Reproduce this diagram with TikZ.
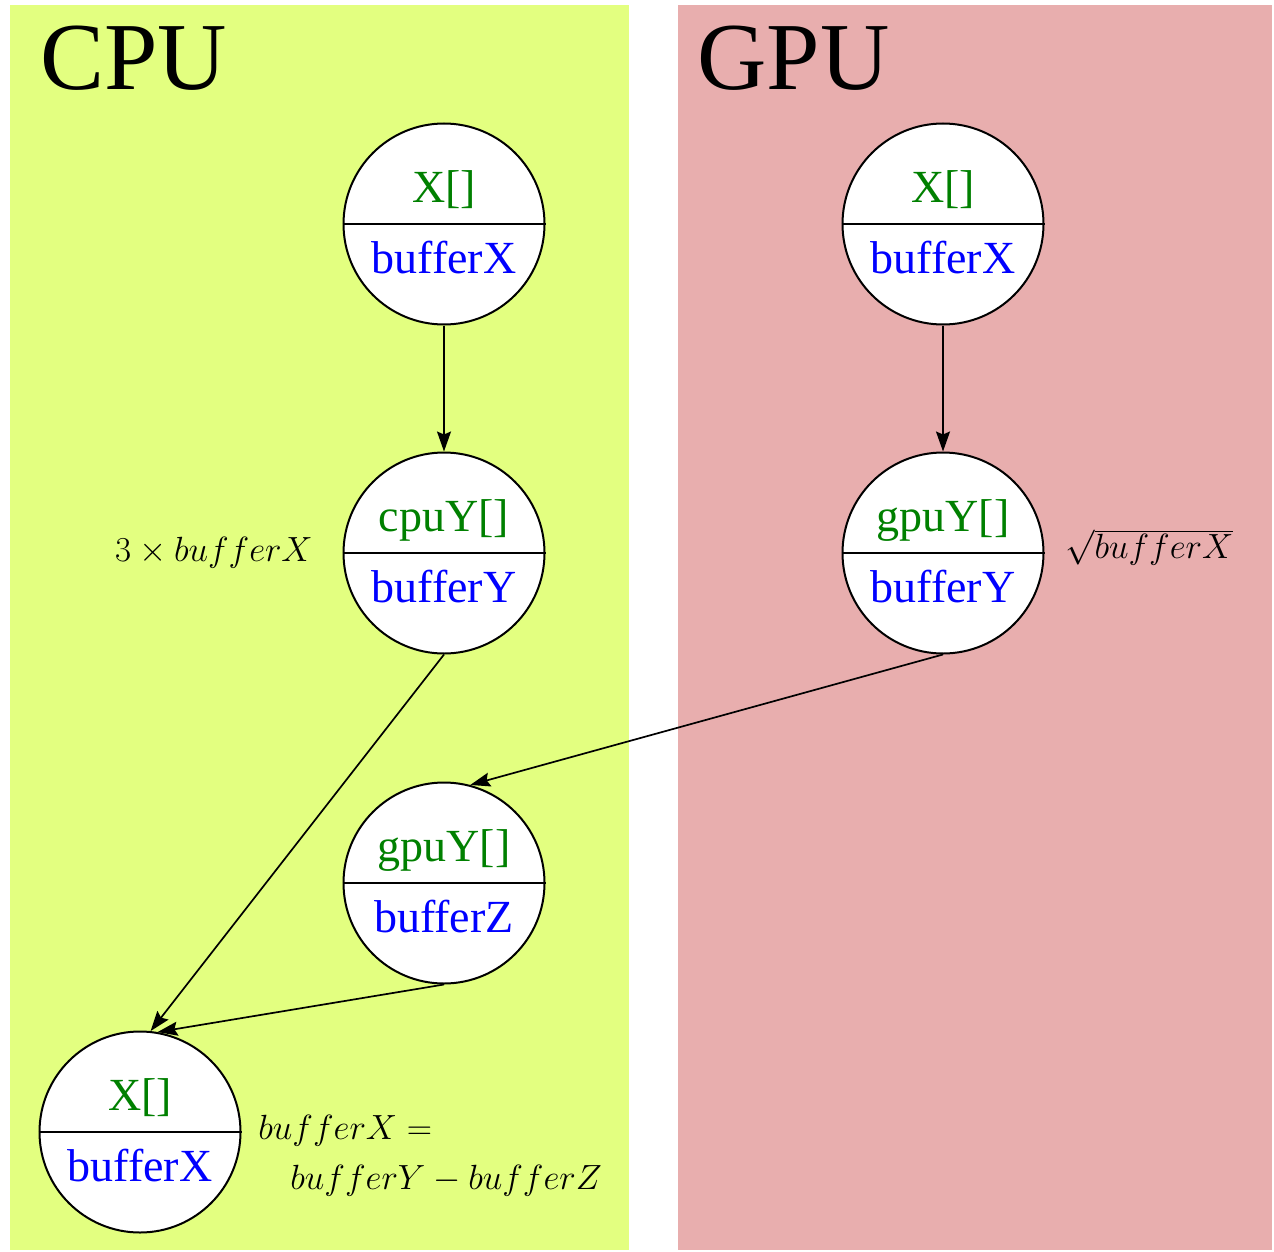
\documentclass[tikz,border=0pt]{standalone}
\usepackage{fix-cm}
\usepackage{fontspec}
\setmainfont{Liberation Serif}
\usetikzlibrary{arrows.meta}
\definecolor{cpubg}{RGB}{227,255,128}
\definecolor{gpubg}{RGB}{232,174,174}
\definecolor{tgreen}{RGB}{0,128,0}
\definecolor{tblue}{RGB}{0,0,255}
\begin{document}
\begin{tikzpicture}[x=0.5pt,y=-0.5pt,
  bufnode/.style={circle,draw,fill=white,line width=1pt,minimum size=100.5pt,inner sep=0pt},
  splitline/.style={line width=0.9pt},
  toptxt/.style={anchor=base,text=tgreen,font=\fontsize{23}{27}\selectfont,inner sep=0pt},
  bottxt/.style={anchor=base,text=tblue,font=\fontsize{23}{27}\selectfont,inner sep=0pt},
  heading/.style={anchor=base west,font=\fontsize{48}{56}\selectfont,inner sep=0pt},
  mathlbl/.style={font=\fontsize{17.5}{21}\selectfont,inner sep=0pt},
  edge/.style={-{Stealth[length=10pt,width=7pt,inset=1.5pt]},line width=0.85pt}]
\useasboundingbox (0,0) rectangle (1274,1252);
\fill[cpubg] (10,5) rectangle (629,1250);
\fill[gpubg] (678,5) rectangle (1272,1250);
\node[heading] (cpuh) at (40,90) {CPU};
\node[heading] (gpuh) at (697,90) {GPU};
% CPU nodes
\node[bufnode] (c1) at (444,224) {};
\node[bufnode] (c2) at (444,553) {};
\node[bufnode] (c3) at (444,883) {};
\node[bufnode] (c4) at (140,1132) {};
% GPU nodes
\node[bufnode] (g1) at (943,224) {};
\node[bufnode] (g2) at (943,553) {};
\foreach \n in {c1,c2,c3,c4,g1,g2} {\draw[splitline] (\n.west) -- (\n.east);}
\node[toptxt] (c1t) at (444,202) {X[]};
\node[bottxt] (c1b) at (444,273) {bufferX};
\node[toptxt] (c2t) at (444,531) {cpuY[]};
\node[bottxt] (c2b) at (444,602) {bufferY};
\node[toptxt] (c3t) at (444,861) {gpuY[]};
\node[bottxt] (c3b) at (444,932) {bufferZ};
\node[toptxt] (c4t) at (140,1110) {X[]};
\node[bottxt] (c4b) at (140,1181) {bufferX};
\node[toptxt] (g1t) at (943,202) {X[]};
\node[bottxt] (g1b) at (943,273) {bufferX};
\node[toptxt] (g2t) at (943,531) {gpuY[]};
\node[bottxt] (g2b) at (943,602) {bufferY};
% labels
\node[mathlbl,anchor=base] (lc2) at (214,561) {$3\times bufferX$};
\node[mathlbl,anchor=base west] (lg2) at (1065,558) {$\sqrt{bufferX}$};
\node[mathlbl,anchor=base west] (lc4a) at (258,1139) {$bufferX =$};
\node[mathlbl,anchor=base west] (lc4b) at (290,1189) {$bufferY - bufferZ$};
% edges
\draw[edge] (c1.south) -- (c2.north);
\draw[edge] (g1.south) -- (g2.north);
\draw[edge] (c2.south) -- (c4.84);
\draw[edge] (c3.south) -- (c4.80);
\draw[edge] (g2.south) -- (c3.75);
\end{tikzpicture}
\end{document}
